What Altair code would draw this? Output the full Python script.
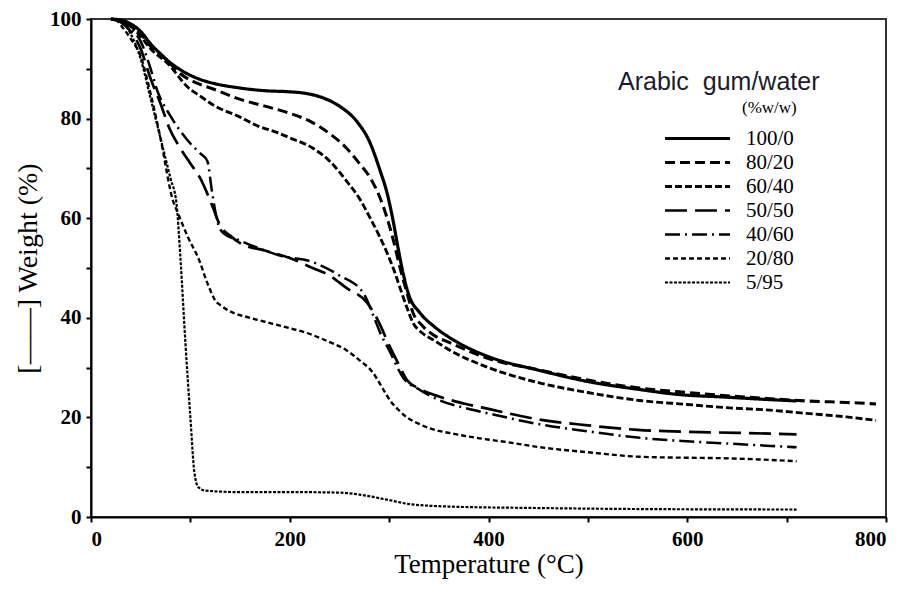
import altair as alt
import pandas as pd

series_names = ["100/0", "80/20", "60/40", "50/50", "40/60", "20/80", "5/95"]

t_100_0 = [20, 30, 40, 50, 60, 70, 80, 90, 108, 125, 148, 175, 198, 215, 233, 250, 268, 280, 291, 298, 304, 309, 314, 320, 331, 345, 361, 375, 400, 452, 500, 552, 591, 636, 680, 710]
w_100_0 = [100, 99.8, 99, 97.5, 95, 93, 91.2, 89.8, 88, 87, 86.2, 85.6, 85.4, 85.1, 84.2, 82.5, 79.3, 75.5, 69.5, 65, 59.5, 54, 49, 44.5, 41, 38.3, 36, 34.4, 32.2, 29.4, 27.2, 25.6, 24.6, 24.1, 23.6, 23.3]

t_80_20 = [20, 40, 50, 60, 77.5, 90, 108, 125, 148, 175, 198, 223, 240, 257, 270, 281, 290, 298, 305, 311, 318, 324, 333, 345, 361, 400, 452, 500, 552, 600, 636, 680, 720, 760, 790]
w_80_20 = [100, 98.8, 97, 94.5, 91.5, 89, 87, 85.8, 84, 82.5, 81.2, 79.2, 77, 74.1, 71, 68.1, 64.5, 60, 55, 50, 45, 41, 38.5, 36.5, 35, 31.8, 29.5, 27.5, 25.9, 25, 24.4, 23.8, 23.3, 23, 22.7]

t_60_40 = [20, 40, 50, 60, 77.5, 98, 110, 125, 148, 167, 190, 198, 223, 240, 257, 270, 281, 290, 298, 305, 311, 318, 324, 333, 345, 361, 400, 452, 500, 552, 600, 636, 680, 720, 760, 790]
w_60_40 = [100, 98.5, 96.5, 94, 91, 86.2, 84.5, 82.5, 80.5, 78.6, 77, 76.3, 74.1, 71.5, 67.5, 64, 60, 56.5, 53, 49.5, 46, 42, 39, 37, 35.5, 33.5, 30, 26.9, 25, 23.4, 22.6, 22, 21.5, 20.8, 20.1, 19.4]

t_50_50 = [25, 40, 50, 60, 70, 79, 90, 100, 110, 123, 130, 140, 150, 175, 200, 223, 240, 257, 278, 290, 300, 310, 318, 330, 350, 375, 400, 450, 500, 550, 600, 650, 710]
w_50_50 = [100, 97.5, 94, 88, 83, 78, 74, 71, 68, 62, 58.5, 56.5, 55, 53.5, 52, 50, 48.5, 46, 43, 39, 34.5, 30.5, 27.5, 25.8, 24.2, 22.8, 21.7, 19.6, 18.4, 17.5, 17.1, 16.9, 16.6]

t_40_60 = [25, 40, 50, 60, 66, 80, 90, 100, 110, 117, 122, 127, 133, 150, 175, 190, 223, 250, 274, 285, 291, 300, 314, 331, 350, 374, 400, 452, 500, 552, 600, 636, 710]
w_40_60 = [100, 98, 95.5, 90, 86, 80.5, 77.5, 75, 73, 71.5, 65, 59.5, 57, 55.5, 53.5, 52.5, 51.2, 48.5, 45, 40, 37, 33.5, 28, 25.5, 23.5, 22, 20.8, 18.6, 17.2, 15.9, 15.2, 14.8, 14]

t_20_80 = [25, 40, 50, 60, 70, 82.5, 87.5, 98, 108, 118, 125, 132, 138, 160, 181, 200, 215, 238, 257, 270, 284, 293, 301, 310, 318, 330, 341, 365, 391, 420, 452, 500, 552, 600, 636, 710]
w_20_80 = [100, 96, 92.5, 85, 76, 63.5, 61, 56, 52, 46.5, 43.5, 42.3, 41.5, 40, 38.9, 37.9, 37.1, 35.3, 33.5, 31.5, 28.9, 26, 23.4, 21.4, 20, 18.7, 17.8, 16.7, 15.8, 15, 14, 13, 12.1, 11.9, 11.8, 11.2]

t_5_95 = [25, 40, 50, 60, 70, 80, 86, 90, 95, 100, 104, 108, 115, 150, 200, 250, 270, 300, 320, 360, 450, 550, 710]
w_5_95 = [100, 97, 92, 84, 76, 68, 63, 52, 35, 20, 9, 6, 5.3, 5, 5, 4.9, 4.5, 3.4, 2.6, 2.1, 1.8, 1.6, 1.5]

all_t = [t_100_0, t_80_20, t_60_40, t_50_50, t_40_60, t_20_80, t_5_95]
all_w = [w_100_0, w_80_20, w_60_40, w_50_50, w_40_60, w_20_80, w_5_95]

rows = []
for name, ts, ws in zip(series_names, all_t, all_w):
    for t, w in zip(ts, ws):
        rows.append({"series": name, "T": t, "W": w})
df = pd.DataFrame(rows)

dash_range = [[1, 0], [10, 5], [7, 3], [22, 8], [15, 5, 2, 5], [5, 3], [3, 1.5]]
width_range = [3.2, 2.2, 2.2, 1.5, 2.2, 2, 1.8]

x_ticks = list(range(0, 801, 100))
y_ticks = list(range(0, 101, 10))

serif = "Liberation Serif"
legend_title = "Arabic\u00a0\u00a0gum/water"

legend_kw = dict(title=legend_title, orient="none", legendX=527, legendY=51,
                 labelFont=serif, labelFontSize=21, labelColor="black",
                 titleFont="Liberation Sans", titleFontSize=25, titleFontWeight="normal",
                 titleColor="#1c1c2c", titlePadding=33)

lines = alt.Chart(df).mark_line(color="black", interpolate="monotone").encode(
    x=alt.X("T:Q", scale=alt.Scale(domain=[0, 800], nice=False),
            axis=alt.Axis(values=x_ticks, title="Temperature (°C)",
                          labelExpr="datum.value % 200 == 0 ? datum.label : ''",
                          labelFont=serif, labelPadding=6,
                          grid=False, titlePadding=2, titleFontSize=27)),
    y=alt.Y("W:Q", scale=alt.Scale(domain=[0, 100], nice=False),
            axis=alt.Axis(values=y_ticks, title="[——] Weight (%)",
                          labelExpr="datum.value % 20 == 0 ? datum.label : ''",
                          labelFont=serif,
                          grid=False, titlePadding=7)),
    strokeDash=alt.StrokeDash("series:N", sort=series_names,
                              scale=alt.Scale(domain=series_names, range=dash_range),
                              legend=alt.Legend(**legend_kw)),
    strokeWidth=alt.StrokeWidth("series:O", sort=series_names,
                                scale=alt.Scale(domain=series_names, range=width_range),
                                legend=alt.Legend(**legend_kw)),
    order=alt.Order("T:Q"),
)

sub = pd.DataFrame({"txt": ["(%w/w)"]})
subtitle = alt.Chart(sub).mark_text(font=serif, fontSize=17, align="left", baseline="middle",
                                   color="black").encode(
    x=alt.value(651), y=alt.value(89), text="txt:N")

chart = alt.layer(lines, subtitle).properties(
    width=795, height=498,
    autosize=alt.AutoSizeParams(type="none"),
    padding={"left": 83, "top": 11, "right": 8, "bottom": 64},
).configure(
    style={"guide-label": {"font": serif}}
).configure_view(
    stroke="#333", strokeWidth=2
).configure_axis(
    domainColor="black", domainWidth=2, tickColor="black", tickWidth=2, tickSize=5,
    labelFont=serif, labelFontWeight="bold", labelFontSize=21, labelColor="black",
    titleFont=serif, titleFontWeight="normal", titleFontSize=28, titleColor="black",
    labelPadding=5,
).configure_legend(
    symbolType="M-6.5,0H6.5", symbolSize=100, symbolStrokeColor="black",
    symbolFillColor="transparent", symbolOffset=69, labelOffset=38,
    labelFont=serif, labelFontSize=21, labelColor="black", rowPadding=2,
    titleFont="Liberation Sans", titleFontSize=25, titleFontWeight="normal",
    titleColor="#1c1c2c", titlePadding=33, titleLimit=400, labelLimit=200,
)

chart.save("out.html", embed_options={"renderer": "svg", "actions": False})
